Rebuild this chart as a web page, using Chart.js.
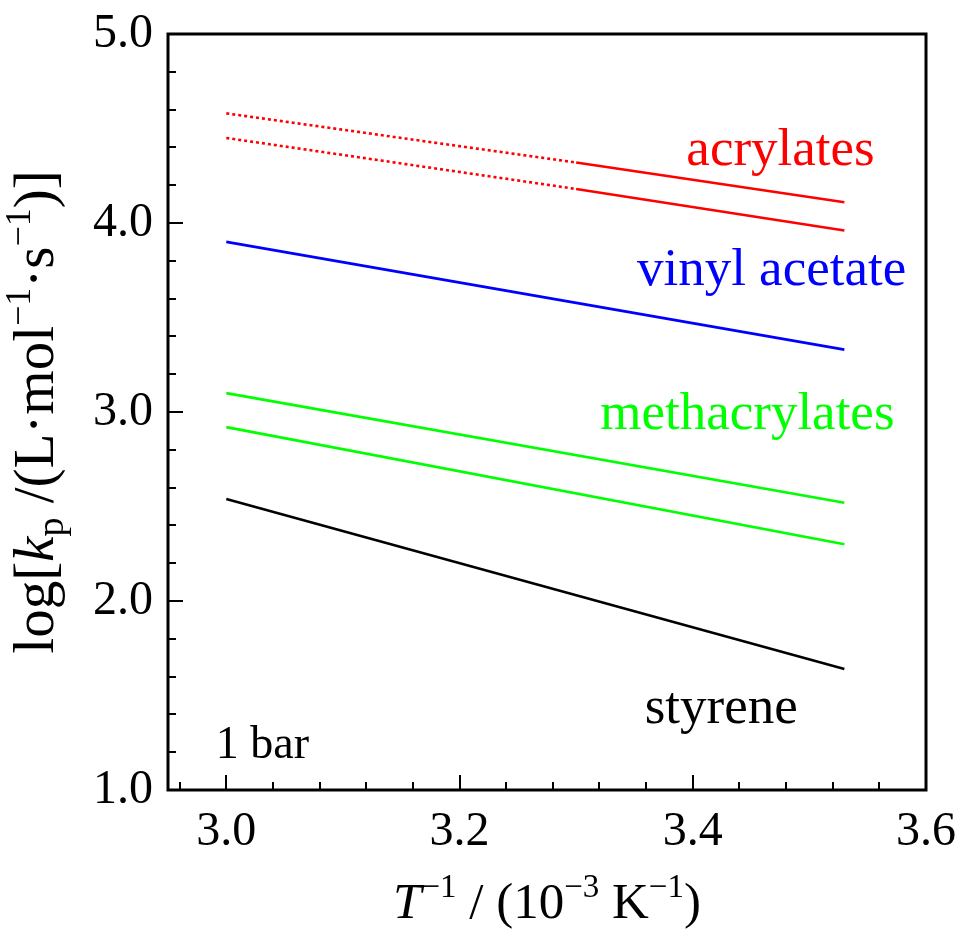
<!DOCTYPE html>
<html>
<head>
<meta charset="utf-8">
<script src="https://cdn.jsdelivr.net/npm/chart.js@4/dist/chart.umd.min.js"></script>
<style>
  html, body { margin: 0; padding: 0; background: #fff; }
  #wrap { width: 960px; height: 940px; }
</style>
</head>
<body>
<div id="wrap"><canvas id="kpChart" width="960" height="940"></canvas></div>
<script>
// T^-1 in 10^-3 K^-1 : 333 K, 303 K, 283 K
const tInv = [3.0, 3.3, 3.53];
const acrylatesUpper = [4.58, 4.32, 4.11];
const acrylatesLower = [4.45, 4.18, 3.96];
// straight lines, only the two ends
const tInvEnds = [3.0, 3.53];
const vinylAcetate = [3.90, 3.33];
const methacrylatesUpper = [3.10, 2.52];
const methacrylatesLower = [2.92, 2.30];
const styrene = [2.54, 1.64];

const xTicks = [3.0, 3.2, 3.4, 3.6];
const yTicks = [1.0, 2.0, 3.0, 4.0, 5.0];

const labels = [
    { text: 'acrylates', x: 3.556, y: 4.306, color: '#ff0000', align: 'right', size: 53 },
    { text: 'vinyl acetate', x: 3.583, y: 3.671, color: '#0000ff', align: 'right', size: 53 },
    { text: 'methacrylates', x: 3.573, y: 2.908, color: '#00ff00', align: 'right', size: 53 },
    { text: 'styrene', x: 3.490, y: 1.357, color: '#000000', align: 'right', size: 53 },
    { text: '1 bar', x: 2.991, y: 1.171, color: '#000000', align: 'left', size: 46 }
];

const FONT = '"Liberation Serif", "DejaVu Serif", serif';

function pts(xs, ys) {
    return ys.map((y, i) => ({ x: xs[i], y: y }));
}

function line(data, color, dash) {
    return {
        data: data,
        showLine: true,
        borderColor: color,
        borderWidth: 2.6,
        borderDash: dash || [],
        pointRadius: 0,
        fill: false
    };
}

// draw text pieces with italic / sub / superscript
function drawRich(ctx, parts, x, y, align) {
    let total = 0;
    parts.forEach(p => {
        ctx.font = (p.italic ? 'italic ' : '') + p.size + 'px ' + FONT;
        p.w = ctx.measureText(p.t).width;
        total += p.w;
    });
    let cx = align === 'center' ? x - total / 2 : x;
    ctx.textAlign = 'left';
    ctx.textBaseline = 'alphabetic';
    parts.forEach(p => {
        ctx.font = (p.italic ? 'italic ' : '') + p.size + 'px ' + FONT;
        ctx.fillText(p.t, cx, y + (p.dy || 0));
        cx += p.w;
    });
}

const framePlugin = {
    id: 'frame',
    afterDatasetsDraw(chart) {
        const ctx = chart.ctx;
        const xs = chart.scales.x, ys = chart.scales.y;
        const a = chart.chartArea;
        ctx.save();

        // annotations
        labels.forEach(l => {
            ctx.font = l.size + 'px ' + FONT;
            ctx.fillStyle = l.color;
            ctx.textAlign = l.align;
            ctx.textBaseline = 'alphabetic';
            ctx.fillText(l.text, xs.getPixelForValue(l.x), ys.getPixelForValue(l.y));
        });

        // frame
        ctx.strokeStyle = '#000';
        ctx.lineWidth = 3;
        ctx.strokeRect(a.left, a.top, a.right - a.left, a.bottom - a.top);

        // inner ticks, left and bottom only
        ctx.lineWidth = 2;
        ctx.beginPath();
        for (let i = 0; i <= 20; i++) {
            const v = 1.0 + i * 0.2;
            const py = Math.round(ys.getPixelForValue(v));
            const len = i % 5 === 0 ? 15 : 8;
            ctx.moveTo(a.left, py);
            ctx.lineTo(a.left + len, py);
        }
        for (let i = 0; i <= 16; i++) {
            const v = 2.96 + i * 0.04;
            const px = Math.round(xs.getPixelForValue(v));
            const len = (i - 1) % 5 === 0 ? 15 : 8;
            ctx.moveTo(px, a.bottom);
            ctx.lineTo(px, a.bottom - len);
        }
        ctx.stroke();

        // axis titles
        ctx.fillStyle = '#000';
        drawRich(ctx, [
            { t: 'T', size: 51, italic: true },
            { t: '\u22121', size: 33, dy: -21 },
            { t: ' / (10', size: 51 },
            { t: '\u22123', size: 33, dy: -21 },
            { t: ' K', size: 51 },
            { t: '\u22121', size: 33, dy: -21 },
            { t: ')', size: 51 }
        ], (a.left + a.right) / 2, 918, 'center');

        ctx.translate(53, (a.top + a.bottom) / 2);
        ctx.rotate(-Math.PI / 2);
        drawRich(ctx, [
            { t: 'log[', size: 57 },
            { t: 'k', size: 57, italic: true },
            { t: 'p', size: 38, dy: 10 },
            { t: ' /(L\u00b7mol', size: 57 },
            { t: '\u22121', size: 36, dy: -23 },
            { t: '\u00b7s', size: 57 },
            { t: '\u22121', size: 36, dy: -23 },
            { t: ')]', size: 57 }
        ], 0, 0, 'center');
        ctx.restore();
    }
};

const ctx = document.getElementById('kpChart').getContext('2d');
const kpChart = new Chart(ctx, {
    type: 'scatter',
    data: {
        datasets: [
            line(pts(tInv.slice(0, 2), acrylatesUpper.slice(0, 2)), '#ff0000', [3, 3]),
            line(pts(tInv.slice(1), acrylatesUpper.slice(1)), '#ff0000'),
            line(pts(tInv.slice(0, 2), acrylatesLower.slice(0, 2)), '#ff0000', [3, 3]),
            line(pts(tInv.slice(1), acrylatesLower.slice(1)), '#ff0000'),
            line(pts(tInvEnds, vinylAcetate), '#0000ff'),
            line(pts(tInvEnds, methacrylatesUpper), '#00ff00'),
            line(pts(tInvEnds, methacrylatesLower), '#00ff00'),
            line(pts(tInvEnds, styrene), '#000000')
        ]
    },
    options: {
        responsive: false,
        animation: false,
        layout: {
            padding: { top: 34, right: 34, left: 0, bottom: 0 }
        },
        plugins: {
            legend: { display: false },
            tooltip: { enabled: false }
        },
        scales: {
            x: {
                type: 'linear',
                min: 2.95,
                max: 3.6,
                afterBuildTicks: s => { s.ticks = xTicks.map(v => ({ value: v })); },
                afterFit: s => { s.height = 150; s.paddingLeft = 0; s.paddingRight = 0; },
                grid: { display: false, drawTicks: false },
                border: { display: false },
                ticks: {
                    color: '#000',
                    padding: 14,
                    maxRotation: 0,
                    autoSkip: false,
                    font: { family: FONT, size: 48 },
                    callback: v => v.toFixed(1)
                }
            },
            y: {
                type: 'linear',
                min: 1.0,
                max: 5.0,
                afterBuildTicks: s => { s.ticks = yTicks.map(v => ({ value: v })); },
                afterFit: s => { s.width = 168; s.paddingTop = 0; s.paddingBottom = 0; },
                grid: { display: false, drawTicks: false },
                border: { display: false },
                ticks: {
                    color: '#000',
                    padding: 15,
                    autoSkip: false,
                    font: { family: FONT, size: 48 },
                    callback: v => v.toFixed(1)
                }
            }
        }
    },
    plugins: [framePlugin]
});
</script>
</body>
</html>
